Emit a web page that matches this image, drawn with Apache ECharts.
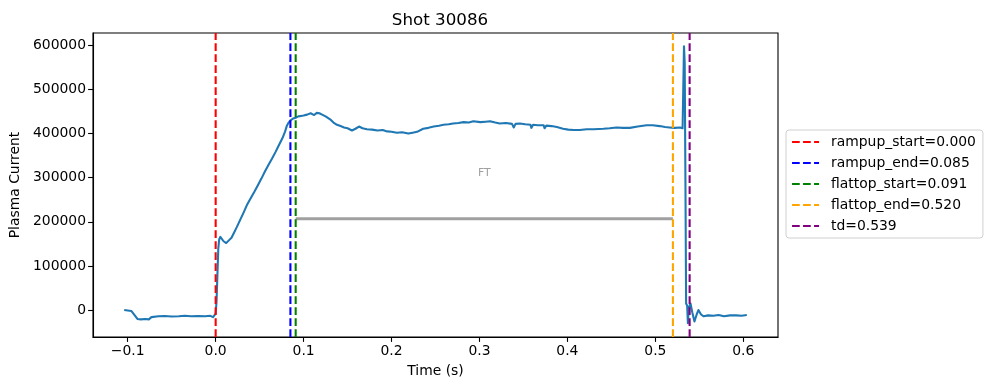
<!DOCTYPE html>
<html><head><meta charset="utf-8">
<script src="https://cdn.jsdelivr.net/npm/echarts@6/dist/echarts.min.js"></script>
<style>html,body{margin:0;padding:0;background:#fff}#c{width:989px;height:390px}</style>
</head><body><div id="c"></div>
<script>
const timeS = [-0.104,-0.100,-0.096,-0.092,-0.089,-0.085,-0.080,-0.076,-0.073,-0.071,-0.065,-0.058,-0.050,-0.042,-0.035,-0.028,-0.020,-0.012,-0.006,-0.003,-0.001,0.000,0.001,0.002,0.003,0.004,0.0053,0.007,0.009,0.012,0.015,0.018,0.021,0.024,0.028,0.032,0.036,0.040,0.044,0.048,0.052,0.056,0.060,0.064,0.068,0.072,0.076,0.079,0.081,0.083,0.085,0.088,0.091,0.094,0.097,0.100,0.104,0.108,0.112,0.115,0.118,0.121,0.125,0.128,0.131,0.134,0.138,0.142,0.146,0.150,0.155,0.159,0.163,0.167,0.172,0.178,0.184,0.190,0.195,0.200,0.206,0.212,0.219,0.224,0.229,0.236,0.242,0.248,0.254,0.259,0.265,0.270,0.276,0.282,0.288,0.293,0.301,0.307,0.312,0.318,0.323,0.330,0.337,0.339,0.341,0.346,0.352,0.358,0.359,0.361,0.366,0.373,0.374,0.376,0.382,0.388,0.395,0.401,0.407,0.414,0.422,0.430,0.441,0.448,0.456,0.463,0.471,0.480,0.490,0.497,0.505,0.511,0.516,0.522,0.528,0.531,0.5318,0.5326,0.5334,0.5342,0.535,0.5362,0.537,0.538,0.540,0.542,0.5445,0.547,0.549,0.552,0.555,0.560,0.566,0.572,0.578,0.585,0.592,0.598,0.604];
const plasmaCurrent = [0,-1000,-2000,-12000,-20000,-21000,-20000,-21000,-16000,-13000,-14000,-13500,-14500,-14000,-13000,-14000,-13500,-14000,-13000,-16000,-18000,-8000,20000,80000,140000,160000,166000,164000,156000,152000,158000,164000,176000,188000,205000,222000,240000,254000,268000,283000,298000,314000,329000,343000,358000,374000,390000,405000,418000,425000,430000,434000,436000,439000,440000,441000,443000,446000,442000,447000,446000,443000,439000,435000,431000,425000,420000,417000,414000,412000,407000,411000,416000,412000,410000,409000,407000,408000,405000,404000,402000,403000,400000,402000,404000,411000,413000,416000,418000,420000,421000,423000,424000,426000,425000,428000,426000,427000,428000,425000,423000,424000,422000,414000,422000,423000,421000,420000,413000,420000,419000,419000,412000,418000,417000,415000,411000,409000,408000,408000,410000,410000,411000,412000,414000,413000,413000,416000,419000,419000,417000,415000,414000,413000,414000,412000,415000,598000,560000,300000,15000,10000,-30000,5000,15000,-5000,-26000,-10000,0,-10000,-14000,-12000,-13000,-11000,-14000,-12000,-12000,-13000,-11000];
const eventNames = ['rampup_start=0.000','rampup_end=0.085','flattop_start=0.091','flattop_end=0.520','td=0.539'];
const eventTimes = [0.000,0.085,0.091,0.520,0.539];
const eventColors = ['#ff0000','#0000ff','#008000','#ffa500','#800080'];
const ftStart = 0.091, ftEnd = 0.520, ftLevel = 207000;
const ftLabel = 'FT', ftLabelPos = [0.3055, 311000];
const xTicks = [-0.1,0.0,0.1,0.2,0.3,0.4,0.5,0.6];
const yTicks = [0,100000,200000,300000,400000,500000,600000];
const xMin = -0.1395, xMax = 0.6395, yMin = -61000, yMax = 628000;

const font = 'DejaVu Sans';
const fs = 13.9;
const dash = [7.7, 3.3];
const chart = echarts.init(document.getElementById('c'), null, {renderer:'canvas'});
const series = [];
series.push({type:'line', name:'Ip', data: timeS.map((t,i)=>[t, plasmaCurrent[i]]), symbol:'none',
  lineStyle:{color:'#1f77b4', width:2.08, join:'round'}, itemStyle:{color:'#1f77b4'}, z:3, silent:true});
series.push({type:'line', name:'ftbar', data:[[ftStart,ftLevel],[ftEnd,ftLevel]], symbol:'none',
  lineStyle:{color:'#a0a0a0', width:2.78}, itemStyle:{color:'#a0a0a0'}, z:2, silent:true});
series.push({type:'scatter', name:'ftlabel', data:[ftLabelPos], symbolSize:0.1, silent:true,
  label:{show:true, position:'inside', formatter: ftLabel, color:'#8a8a8a', fontFamily:font, fontSize:11}});
eventNames.forEach((n,i)=>{
  series.push({type:'line', name:n, data:[[eventTimes[i],yMin],[eventTimes[i],yMax]], symbol:'none',
    lineStyle:{color:eventColors[i], width:2.08, type:dash}, itemStyle:{color:eventColors[i]}, z:4, silent:true});
});
chart.setOption({
  animation:false,
  backgroundColor:'#fff',
  title:{text:'Shot 30086', left:435, top:7, textAlign:'center',
    textStyle:{fontFamily:font, fontSize:16.7, fontWeight:'normal', color:'#000'}},
  grid:{left:93, right:211, top:33, bottom:53, show:true, borderColor:'#000', borderWidth:1.1, backgroundColor:'transparent'},
  legend:{data:eventNames, orient:'vertical', left:786, top:130, itemWidth:27, itemHeight:14, itemGap:7,
    padding:[5,7,5,5], borderColor:'#d0d0d0', borderWidth:1, borderRadius:3, backgroundColor:'#fff',
    itemStyle:{opacity:0}, lineStyle:{width:2.08, type:dash},
    textStyle:{fontFamily:font, fontSize:fs, color:'#000', padding:[0,0,0,7]}, selectedMode:false},
  xAxis:{type:'value', min:xMin, max:xMax, name:'Time (s)', nameLocation:'middle', nameGap:27,
    nameTextStyle:{fontFamily:font, fontSize:fs, color:'#000'},
    axisLine:{show:true, onZero:false, lineStyle:{color:'#000', width:1.1}},
    axisTick:{show:true, length:4.9, customValues:xTicks, lineStyle:{color:'#000', width:1.1}},
    axisLabel:{customValues:xTicks, margin:7, fontFamily:font, fontSize:fs, color:'#000',
      formatter:v=> (Math.abs(v)<1e-9?'0.0':(v<0?'\u2212':'')+Math.abs(v).toFixed(1))},
    splitLine:{show:false}},
  yAxis:{type:'value', min:yMin, max:yMax, name:'Plasma Current', nameLocation:'middle', nameGap:70, nameRotate:90,
    nameTextStyle:{fontFamily:font, fontSize:fs, color:'#000'},
    axisLine:{show:true, onZero:false, lineStyle:{color:'#000', width:1.1}},
    axisTick:{show:true, length:4.9, customValues:yTicks, lineStyle:{color:'#000', width:1.1}},
    axisLabel:{customValues:yTicks, margin:7, fontFamily:font, fontSize:fs, color:'#000', formatter:v=>String(v)},
    splitLine:{show:false}},
  series: series
});
</script></body></html>
